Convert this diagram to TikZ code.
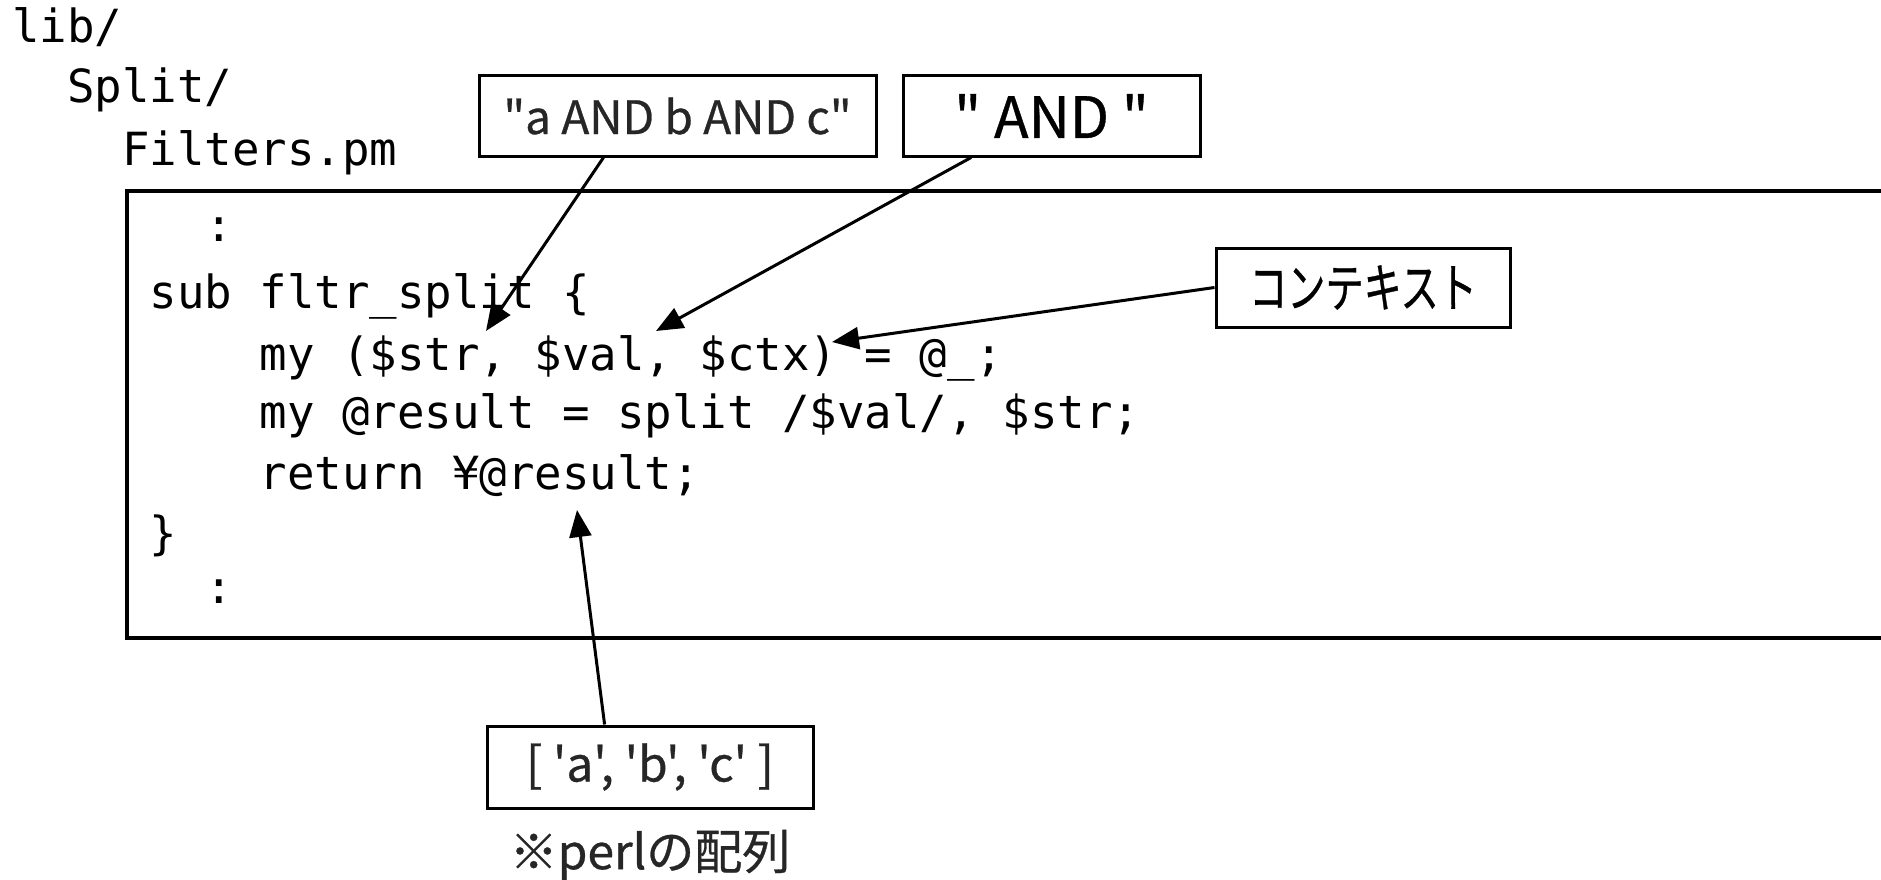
\documentclass[tikz,border=0pt]{standalone}
\usepackage{fontspec}
\setmonofont{DejaVu Sans Mono}
\newfontfamily\jpfont[Ligatures=TeXOff,FakeBold=0.6]{Noto Sans CJK JP}
\newfontfamily\jpnarrow[FakeStretch=0.72,FakeBold=0.6]{Noto Sans CJK JP}
\usetikzlibrary{arrows.meta,calc}
\definecolor{labelgray}{RGB}{38,38,38}

\tikzset{
  code/.style={anchor=base west, inner sep=0pt, font=\ttfamily\fontsize{45.7}{55}\selectfont},
  callout/.style={draw, line width=3pt, inner sep=0pt, align=center},
  pointer/.style={-{Triangle[length=27pt,width=22pt]}, line width=3pt},
}

\begin{document}
\begin{tikzpicture}[x=1pt,y=-1pt]
    \useasboundingbox (0,0) rectangle (1881,880);
    % file tree
    \node[code] (libdir) at (12,43) {lib/};
    \node[code] (splitdir) at (67,103) {Split/};
    \node[code] (pmfile) at (122,165) {Filters.pm};
    % code frame, open on the right
    \draw[line width=3.5pt] (1881,191) -- (127,191) -- (127,638) -- (1881,638);
    \node[code] (dotsup) at (205,241) {:};
    \node[code] (subline) at (149.5,308) {sub fltr\_split \{};
    \node[code] (argline) at (259.5,370) {my (\$str, \$val, \$ctx) = @\_;};
    \node[code] (splitline) at (259.5,428) {my @result = split /\$val/, \$str;};
    \node[code] (retline) at (259.5,489) {return ¥@result;};
    \node[code] (closeline) at (149.5,549) {\}};
    \node[code] (dotsdown) at (205,603) {:};
    % callouts
    \node[callout, minimum width=397pt, minimum height=80pt, text=labelgray,
          font=\jpfont\fontsize{46}{55}\selectfont] (strbox) at (677.5,116) {"a AND b AND c"};
    \node[callout, minimum width=297pt, minimum height=80pt,
          font=\jpfont\fontsize{57}{66}\selectfont] (valbox) at (1051.5,116) {" AND "};
    \node[callout, minimum width=294pt, minimum height=79pt,
          font=\jpnarrow\fontsize{53}{60}\selectfont] (ctxbox) at (1363,287.5) {コンテキスト};
    \node[callout, minimum width=326pt, minimum height=82pt, text=labelgray,
          font=\jpfont\fontsize{48}{55}\selectfont] (resultbox) at (650,767) {[ 'a', 'b', 'c' ]};
    \node[text=labelgray, font=\jpfont\fontsize{48}{55}\selectfont] (arraynote) at (650,855) {※perlの配列};
    % arrow tips
    \coordinate (strtip) at (486,331);
    \coordinate (valtip) at (656,331);
    \coordinate (ctxtip) at (832,342);
    \coordinate (restip) at (577,510);
    \draw[pointer] ($(strbox.south west)!0.315!(strbox.south east)$) -- (strtip);
    \draw[pointer] ($(valbox.south west)!0.232!(valbox.south east)$) -- (valtip);
    \draw[pointer] (ctxbox.west) -- (ctxtip);
    \draw[pointer] ($(resultbox.north west)!0.362!(resultbox.north east)$) -- (restip);
\end{tikzpicture}
\end{document}
